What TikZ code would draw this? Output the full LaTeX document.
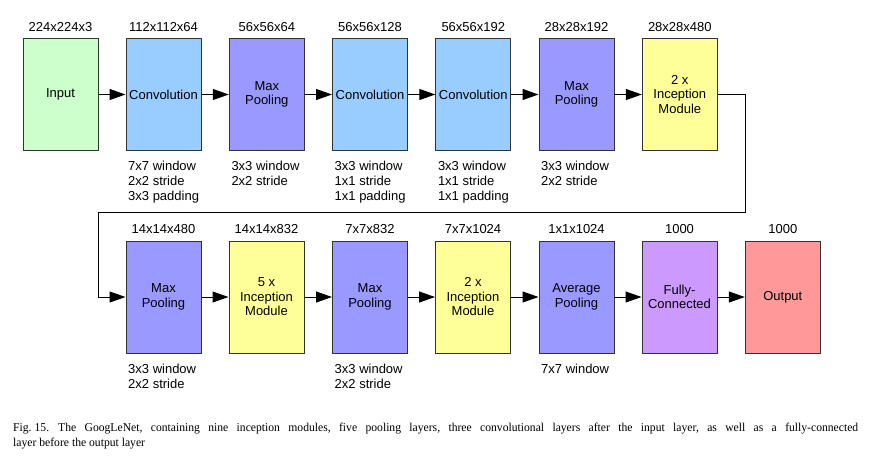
\documentclass[tikz,border=0pt]{standalone}
\usepackage{fontspec}
\setmainfont{Liberation Serif}
\newfontfamily\diagfont{Liberation Sans}
\newfontfamily\capfont{Liberation Serif}[FakeStretch=0.97]
\usetikzlibrary{arrows.meta,calc}
\definecolor{cinput}{HTML}{CCFFCC}
\definecolor{cconv}{HTML}{99CCFF}
\definecolor{cpool}{HTML}{9999FF}
\definecolor{cincep}{HTML}{FFFF99}
\definecolor{cfc}{HTML}{CC99FF}
\definecolor{cout}{HTML}{FF9999}
\definecolor{cborder}{HTML}{333333}
\tikzset{
  layer/.style={draw=cborder, line width=1pt, minimum width=75pt, minimum height=112pt,
    inner sep=0pt, align=center, font=\diagfont\fontsize{13}{14.5}\selectfont},
  dimlabel/.style={anchor=base, inner sep=0pt, font=\diagfont\fontsize{13}{15}\selectfont},
  desc/.style={anchor=north west, inner sep=0pt, align=left, font=\diagfont\fontsize{13}{15}\selectfont},
  flow/.style={line width=1pt, -{Triangle[length=16pt,width=11pt]}},
}
\begin{document}
\begin{tikzpicture}[x=1pt,y=-1pt]
\useasboundingbox[fill=white] (0,0) rectangle (877,459);
% top row
\node[layer, fill=cinput] (in) at (60.5,94.5) {Input};
\node[layer, fill=cconv] (c1) at (163.5,94.5) {Convolution};
\node[layer, fill=cpool] (p1) at (266.8,94.5) {Max\\Pooling};
\node[layer, fill=cconv] (c2) at (370,94.5) {Convolution};
\node[layer, fill=cconv] (c3) at (473.3,94.5) {Convolution};
\node[layer, fill=cpool] (p2) at (576.5,94.5) {Max\\Pooling};
\node[layer, fill=cincep] (i1) at (679.8,94.5) {2 x\\Inception\\Module};
% bottom row
\node[layer, fill=cpool] (p3) at (163.5,297) {Max\\Pooling};
\node[layer, fill=cincep] (i2) at (266.5,297) {5 x\\Inception\\Module};
\node[layer, fill=cpool] (p4) at (370,297) {Max\\Pooling};
\node[layer, fill=cincep] (i3) at (473,297) {2 x\\Inception\\Module};
\node[layer, fill=cpool] (ap) at (576.5,297) {Average\\Pooling};
\node[layer, fill=cfc] (fc) at (679.5,297) {Fully-\\Connected};
\node[layer, fill=cout] (out) at (782.8,297) {Output};
% dimension labels
\foreach \n/\t in {in/224x224x3, c1/112x112x64, p1/56x56x64, c2/56x56x128, c3/56x56x192, p2/28x28x192, i1/28x28x480,
  p3/14x14x480, i2/14x14x832, p4/7x7x832, i3/7x7x1024, ap/1x1x1024, fc/1000, out/1000}
  \node[dimlabel] (dl-\n) at ($(\n.north)+(0,-7)$) {\t};
% descriptions
\node[desc] (d-c1) at ($(c1.south west)+(2.5,10)$) {7x7 window\\2x2 stride\\3x3 padding};
\node[desc] (d-p1) at ($(p1.south west)+(2.5,10)$) {3x3 window\\2x2 stride};
\node[desc] (d-c2) at ($(c2.south west)+(2.5,10)$) {3x3 window\\1x1 stride\\1x1 padding};
\node[desc] (d-c3) at ($(c3.south west)+(2.5,10)$) {3x3 window\\1x1 stride\\1x1 padding};
\node[desc] (d-p2) at ($(p2.south west)+(2.5,10)$) {3x3 window\\2x2 stride};
\node[desc] (d-p3) at ($(p3.south west)+(2.5,10)$) {3x3 window\\2x2 stride};
\node[desc] (d-p4) at ($(p4.south west)+(2.5,10)$) {3x3 window\\2x2 stride};
\node[desc] (d-ap) at ($(ap.south west)+(2.5,10)$) {7x7 window};
% connectors
\draw[flow] (in) -- (c1);
\draw[flow] (c1) -- (p1);
\draw[flow] (p1) -- (c2);
\draw[flow] (c2) -- (c3);
\draw[flow] (c3) -- (p2);
\draw[flow] (p2) -- (i1);
\coordinate (turnA) at (745,94.5);
\coordinate (turnB) at (745,212.5);
\coordinate (turnC) at (98.5,212.5);
\coordinate (turnD) at (98.5,297);
\draw[flow] (i1.east) -- (turnA) -- (turnB) -- (turnC) -- (turnD) -- (p3.west);
\draw[flow] (p3) -- (i2);
\draw[flow] (i2) -- (p4);
\draw[flow] (p4) -- (i3);
\draw[flow] (i3) -- (ap);
\draw[flow] (ap) -- (fc);
\draw[flow] (fc) -- (out);
% caption
\node[anchor=north west, inner sep=0pt, text width=845pt, align=justify,
  font=\capfont\fontsize{12}{15}\selectfont\frenchspacing] (cap) at (13,423) {Fig.\kern0.25em15.\kern0.75em The GoogLeNet, containing nine inception modules, five pooling layers, three convolutional layers after the input layer, as well as a fully-connected\linebreak layer before the output layer};
\end{tikzpicture}
\end{document}
